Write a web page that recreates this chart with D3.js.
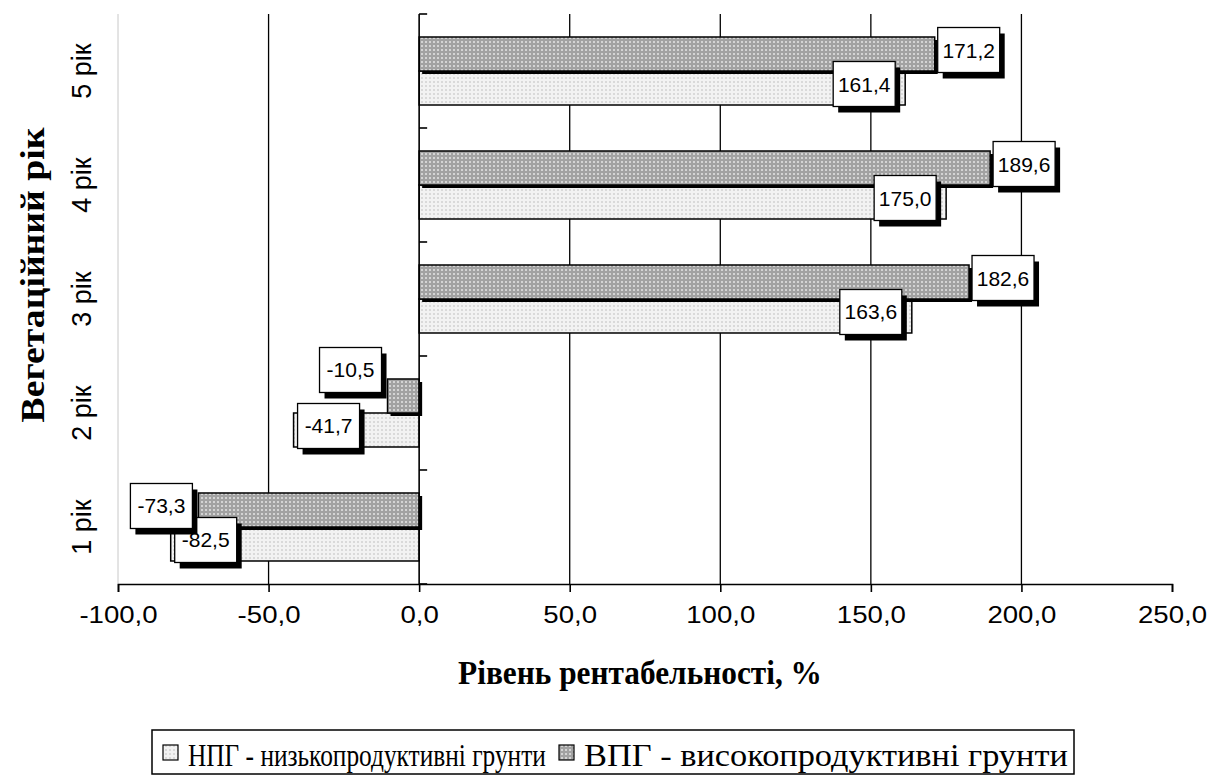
<!DOCTYPE html>
<html>
<head>
<meta charset="utf-8">
<script src="https://cdn.jsdelivr.net/npm/d3@7"></script>
<style>
  html, body { margin: 0; padding: 0; background: #fff; }
  svg { display: block; }
</style>
</head>
<body>
<svg id="chart" width="1221" height="776"></svg>
<script>
// ---- data ----
const categories = ["1 рік", "2 рік", "3 рік", "4 рік", "5 рік"];
const seriesNames = ["НПГ - низькопродуктивні грунти", "ВПГ - високопродуктивні грунти"];
const npgValues = [-82.5, -41.7, 163.6, 175.0, 161.4];
const vpgValues = [-73.3, -10.5, 182.6, 189.6, 171.2];
const xTicks = [-100, -50, 0, 50, 100, 150, 200, 250];
const xTitle = "Рівень рентабельності, %";
const yTitle = "Вегетаційний рік";

const svg = d3.select("#chart");
const plot = { left: 118, right: 1172, top: 14, bottom: 584 };

const fmt = v => v.toFixed(1).replace(".", ",");

// fit a text to a given width by a horizontal scale about its anchor point
function fitWidth(sel, ax, ay, targetW) {
  const node = sel.node();
  const w = node.getComputedTextLength();
  const s = targetW / w;
  sel.attr("transform", `translate(${ax},${ay}) scale(${s},1) translate(${-ax},${-ay})`);
}

// patterns
const defs = svg.append("defs");
const pDark = defs.append("pattern").attr("id", "pDark").attr("patternUnits", "userSpaceOnUse")
  .attr("width", 4).attr("height", 4);
pDark.append("rect").attr("width", 4).attr("height", 4).attr("fill", "#a2a2a2");
pDark.append("rect").attr("x", 1).attr("y", 1).attr("width", 2).attr("height", 2).attr("fill", "#d4d4d4");
const pLight = defs.append("pattern").attr("id", "pLight").attr("patternUnits", "userSpaceOnUse")
  .attr("width", 4).attr("height", 4);
pLight.append("rect").attr("width", 4).attr("height", 4).attr("fill", "#f2f2f2");
pLight.append("rect").attr("x", 1).attr("y", 1).attr("width", 2).attr("height", 2).attr("fill", "#d9d9d9");

const x = d3.scaleLinear().domain([-100, 250]).range([plot.left, plot.right]);
const y = d3.scaleBand().domain(categories.slice().reverse()).range([plot.top, plot.bottom])
  .paddingInner(0.4035).paddingOuter(0.2018);
const sub = d3.scaleBand().domain(["vpg", "npg"]).range([0, y.bandwidth()]);

// plot area left border (light gray)
svg.append("line").attr("x1", plot.left).attr("x2", plot.left)
  .attr("y1", plot.top).attr("y2", plot.bottom).attr("stroke", "#c8c8c8").attr("stroke-width", 1);

// gridlines
svg.append("g").selectAll("line").data(xTicks.filter(t => t !== 0 && t !== -100 && t !== 250))
  .join("line")
  .attr("x1", d => x(d)).attr("x2", d => x(d))
  .attr("y1", plot.top).attr("y2", plot.bottom)
  .attr("stroke", "#000").attr("stroke-width", 1.3);

// x axis
const xAxis = svg.append("g").attr("transform", `translate(0,${plot.bottom})`)
  .call(d3.axisBottom(x).tickValues(xTicks).tickFormat(fmt).tickSize(8).tickPadding(14));
xAxis.select(".domain").attr("stroke", "#000").attr("stroke-width", 1.6);
xAxis.selectAll(".tick line").attr("stroke", "#000").attr("stroke-width", 1.6);
xAxis.selectAll(".tick text")
  .attr("font-family", "Liberation Sans, Arial, sans-serif").attr("font-size", 24)
  .attr("fill", "#000")
  .each(function () {
    const t = d3.select(this);
    const w = this.getComputedTextLength();
    t.attr("textLength", w * 1.15).attr("lengthAdjust", "spacingAndGlyphs");
  });

// bars
const rows = categories.map((c, i) => ({ cat: c, npg: npgValues[i], vpg: vpgValues[i] }));
const gBars = svg.append("g");
function barRect(sel, key) {
  sel.attr("x", d => Math.min(x(0), x(d[key])))
     .attr("width", d => Math.abs(x(d[key]) - x(0)))
     .attr("y", d => y(d.cat) + sub(key))
     .attr("height", sub.bandwidth());
}
gBars.selectAll("rect.npg").data(rows).join("rect").attr("class", "npg")
  .call(barRect, "npg").attr("fill", "url(#pLight)").attr("stroke", "#000").attr("stroke-width", 1.5);
gBars.selectAll("rect.vpgs").data(rows).join("rect").attr("class", "vpgs")
  .call(barRect, "vpg").attr("transform", "translate(3,3)").attr("fill", "#000");
gBars.selectAll("rect.vpg").data(rows).join("rect").attr("class", "vpg")
  .call(barRect, "vpg").attr("fill", "url(#pDark)").attr("stroke", "#000").attr("stroke-width", 1.5);

// y axis (at zero)
svg.append("line").attr("x1", x(0)).attr("x2", x(0)).attr("y1", plot.top).attr("y2", plot.bottom)
  .attr("stroke", "#000").attr("stroke-width", 1.6);
svg.append("g").selectAll("line").data(d3.range(categories.length + 1))
  .join("line")
  .attr("x1", x(0)).attr("x2", x(0) + 8)
  .attr("y1", i => plot.top + i * y.step())
  .attr("y2", i => plot.top + i * y.step())
  .attr("stroke", "#000").attr("stroke-width", 1.6);

// category labels (rotated)
svg.append("g").selectAll("text").data(categories).join("text")
  .attr("transform", d => `translate(91,${y(d) + y.bandwidth() / 2}) rotate(-90)`)
  .attr("text-anchor", "middle")
  .attr("font-family", "Liberation Sans, Arial, sans-serif").attr("font-size", 27)
  .attr("fill", "#000").text(d => d);

// data labels
const LW = 62, LH = 45;
const labels = [];
rows.forEach(d => {
  const cy = y(d.cat);
  const vEnd = x(d.vpg), nEnd = x(d.npg);
  const vBox = {
    x: d.vpg >= 0 ? vEnd + 3 : vEnd - 6 - LW,
    y: cy + sub("vpg") + sub.bandwidth() / 2 - 4 - LH / 2, text: fmt(d.vpg)
  };
  const nBox = {
    x: d.npg >= 0 ? nEnd - 10 - LW : nEnd + 4,
    y: cy + sub("npg") + sub.bandwidth() / 2 - 4 - LH / 2, text: fmt(d.npg)
  };
  if (vBox.x < nBox.x + LW && nBox.x < vBox.x + LW && d.vpg < 0 && Math.abs(d.vpg) < 30) {
    vBox.y = nBox.y - LH - 11;
  }
  labels.push(nBox, vBox);
});
const gL = svg.append("g").selectAll("g").data(labels).join("g")
  .attr("transform", d => `translate(${d.x},${d.y})`);
gL.append("rect").attr("x", 5).attr("y", 6).attr("width", LW).attr("height", LH).attr("fill", "#000");
gL.append("rect").attr("width", LW).attr("height", LH).attr("fill", "#fff")
  .attr("stroke", "#000").attr("stroke-width", 1.3);
gL.append("text").attr("x", LW / 2).attr("y", LH / 2 + 7.5).attr("text-anchor", "middle")
  .attr("font-family", "Liberation Sans, Arial, sans-serif").attr("font-size", 21)
  .attr("fill", "#000").text(d => d.text);

// axis titles
const xt = svg.append("text").attr("x", 640).attr("y", 684).attr("text-anchor", "middle")
  .attr("font-family", "Liberation Serif, Times New Roman, serif").attr("font-weight", "bold")
  .attr("font-size", 33).attr("fill", "#000").text(xTitle);
fitWidth(xt, 640, 684, 364);
const yt = svg.append("g").attr("transform", "translate(44,275) rotate(-90)")
  .append("text").attr("x", 0).attr("y", 0).attr("text-anchor", "middle")
  .attr("font-family", "Liberation Serif, Times New Roman, serif").attr("font-weight", "bold")
  .attr("font-size", 34).attr("fill", "#000").text(yTitle);
fitWidth(yt, 0, 0, 295);

// legend
const leg = svg.append("g");
leg.append("rect").attr("x", 152).attr("y", 730).attr("width", 922).attr("height", 44)
  .attr("fill", "#fff").attr("stroke", "#000").attr("stroke-width", 1.5);
const legItems = [
  { name: seriesNames[0], fill: "url(#pLight)", sx: 163, tx: 188, tw: 358 },
  { name: seriesNames[1], fill: "url(#pDark)", sx: 559, tx: 584, tw: 484 }
];
legItems.forEach(it => {
  leg.append("rect").attr("x", it.sx).attr("y", 745).attr("width", 15).attr("height", 15)
    .attr("fill", it.fill).attr("stroke", "#000").attr("stroke-width", 1.2);
  const t = leg.append("text").attr("x", it.tx).attr("y", 766)
    .attr("font-family", "Liberation Serif, Times New Roman, serif").attr("font-size", 32)
    .attr("fill", "#000").text(it.name);
  fitWidth(t, it.tx, 766, it.tw);
});
</script>
</body>
</html>
